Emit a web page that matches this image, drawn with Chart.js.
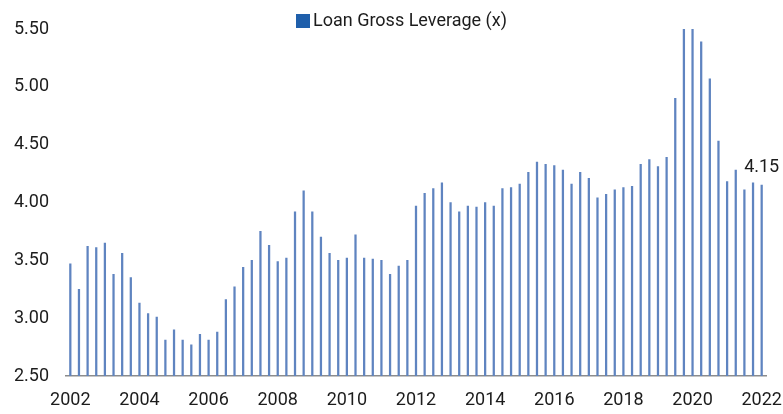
<!DOCTYPE html>
<html>
<head>
<meta charset="utf-8">
<script src="https://cdn.jsdelivr.net/npm/chart.js@4.4.1/dist/chart.umd.min.js"></script>
<style>
  html, body { margin: 0; padding: 0; background: #fff; }
  #wrap { width: 783px; height: 414px; position: relative; }
</style>
</head>
<body>
<div id="wrap"><canvas id="leverageChart"></canvas></div>
<script>
// quarterly loan gross leverage, 2002 Q1 .. 2022 Q1
const firstYear = 2002;
const leverage = [
  3.47, 3.25, 3.62, 3.61, 3.65, 3.38, 3.56, 3.35,
  3.13, 3.04, 3.01, 2.81, 2.90, 2.81, 2.77, 2.86,
  2.81, 2.88, 3.16, 3.27, 3.44, 3.50, 3.75, 3.63,
  3.49, 3.52, 3.92, 4.10, 3.92, 3.70, 3.56, 3.50,
  3.52, 3.72, 3.52, 3.51, 3.50, 3.38, 3.45, 3.50,
  3.97, 4.08, 4.12, 4.17, 4.00, 3.92, 3.97, 3.96,
  4.00, 3.97, 4.12, 4.13, 4.16, 4.26, 4.35, 4.33,
  4.32, 4.28, 4.16, 4.26, 4.21, 4.04, 4.07, 4.11,
  4.13, 4.14, 4.33, 4.37, 4.31, 4.39, 4.90, 5.50,
  5.50, 5.39, 5.07, 4.53, 4.18, 4.28, 4.11, 4.17,
  4.15
];
const yearTicks = ["2002", "2004", "2006", "2008", "2010", "2012", "2014", "2016", "2018", "2020", "2022"];
const yTicks = [2.5, 3.0, 3.5, 4.0, 4.5, 5.0, 5.5];
const seriesName = "Loan Gross Leverage (x)";

const quarters = leverage.map((v, i) => (firstYear + Math.floor(i / 4)) + " Q" + (i % 4 + 1));

const legendColor = "#1f5fab";
const barColor = "#5f84c0";
const textColor = "#1c1c1c";
const fontFamily = "Roboto, 'Liberation Sans', sans-serif";

// legend drawn by hand so it sits where the original one does
const legendPlugin = {
  id: "topLegend",
  afterDraw(chart) {
    const ctx = chart.ctx;
    ctx.save();
    ctx.fillStyle = legendColor;
    ctx.fillRect(296, 14, 14, 14);
    ctx.fillStyle = textColor;
    ctx.font = "18px " + fontFamily;
    ctx.textAlign = "left";
    ctx.textBaseline = "middle";
    ctx.fillText(seriesName, 313, 21);
    ctx.restore();
  }
};

// value callout over the latest bar
const lastLabel = {
  id: "lastLabel",
  afterDatasetsDraw(chart) {
    const meta = chart.getDatasetMeta(0);
    const bar = meta.data[meta.data.length - 1];
    const ctx = chart.ctx;
    ctx.save();
    ctx.fillStyle = textColor;
    ctx.font = "18px " + fontFamily;
    ctx.textAlign = "center";
    ctx.textBaseline = "bottom";
    ctx.fillText(leverage[leverage.length - 1].toFixed(2), bar.x, bar.y - 9);
    ctx.restore();
  }
};

const ctx = document.getElementById("leverageChart").getContext("2d");
new Chart(ctx, {
  type: "bar",
  data: {
    labels: quarters,
    datasets: [{
      label: seriesName,
      data: leverage,
      backgroundColor: barColor,
      barThickness: 1.6
    }]
  },
  options: {
    responsive: true,
    maintainAspectRatio: false,
    animation: false,
    layout: { padding: { top: 29, right: 0, bottom: 0, left: 0 } },
    plugins: {
      legend: { display: false },
      tooltip: { enabled: false }
    },
    scales: {
      x: {
        offset: true,
        grid: { display: false, drawTicks: false },
        border: { display: true, color: "#8c8c8c", width: 1.5 },
        afterFit: s => { s.height = 38; s.paddingRight = 17; },
        ticks: {
          autoSkip: false,
          maxRotation: 0,
          padding: 14,
          color: textColor,
          font: { family: fontFamily, size: 18 },
          callback: function (val) {
            const q = this.getLabelForValue(val);
            const yr = q.split(" ")[0];
            return q.endsWith("Q1") && yearTicks.includes(yr) ? yr : "";
          }
        }
      },
      y: {
        min: yTicks[0],
        max: yTicks[yTicks.length - 1],
        grid: { display: false, drawTicks: false },
        border: { display: false },
        afterFit: s => { s.width = 66; },
        afterBuildTicks: s => { s.ticks = yTicks.map(v => ({ value: v })); },
        ticks: {
          padding: 17,
          color: textColor,
          font: { family: fontFamily, size: 18 },
          callback: v => Number(v).toFixed(2)
        }
      }
    }
  },
  plugins: [legendPlugin, lastLabel]
});
</script>
</body>
</html>
